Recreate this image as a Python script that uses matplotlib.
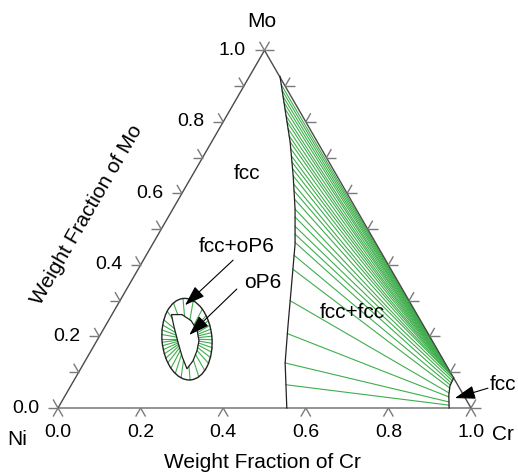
import numpy as np
import matplotlib
matplotlib.use("Agg")
import matplotlib.pyplot as plt
from matplotlib.patches import Ellipse, Polygon

plt.rcParams['font.family'] = ['Liberation Sans', 'DejaVu Sans']

# ---------------- data (weight fractions) ----------------
# left boundary of the fcc+fcc miscibility gap (Cr, Mo)
gap_left_cr = [0.554, 0.487, 0.444, 0.399, 0.345, 0.296, 0.245, 0.190, 0.131, 0.074]
gap_left_mo = [0.000, 0.126, 0.225, 0.331, 0.458, 0.556, 0.649, 0.744, 0.837, 0.927]
# right boundary (Cr-rich fcc region), continuing along the Cr-Mo edge
gap_right_cr = [0.947, 0.928, 0.918, 0.916, 0.700]
gap_right_mo = [0.000, 0.0365, 0.062, 0.084, 0.300]
# tie lines: Mo at the left end / Mo at the right end
tie_left_mo = [0.065, 0.126, 0.208, 0.300, 0.388, 0.427, 0.463, 0.486, 0.508, 0.534,
               0.556, 0.584, 0.607, 0.626, 0.649, 0.669, 0.688, 0.705, 0.725, 0.744,
               0.761, 0.781, 0.801, 0.817, 0.837, 0.854, 0.871, 0.888, 0.904]
tie_right_mo = [0.008, 0.017, 0.031, 0.042, 0.056, 0.064, 0.070, 0.076, 0.081, 0.085,
                0.088, 0.092, 0.096, 0.100, 0.104, 0.108, 0.113, 0.118, 0.123, 0.128,
                0.134, 0.140, 0.147, 0.154, 0.162, 0.170, 0.180, 0.190, 0.200]
# oP6 single-phase lens (Cr, Mo)
op6_cr = [0.1440, 0.1696, 0.1998, 0.2270, 0.2473, 0.2565, 0.2609, 0.2575, 0.2290, 0.1995, 0.1690]
op6_mo = [0.2612, 0.2612, 0.2444, 0.2191, 0.1882, 0.1601, 0.1320, 0.1096, 0.1433, 0.1826, 0.2247]
# fcc+oP6 outer boundary (ellipse): centre Cr, Mo and size
ring_center_cr, ring_center_mo = 0.2161, 0.1924
ring_width, ring_height, ring_angle = 0.121, 0.198, 5.0
# directions (deg) of the fcc+oP6 tie lines around the lens
ring_tie_angles = [95, 110, 125, 140, 150, 160, 170, 180, 188, 196, 205, 214, 223, 232,
                   242, 252, 262, 275, 288, 300, 312, 322, 332, 341, 350, 358, 6, 14,
                   22, 30, 40, 50, 62, 80]

tick_values = [0.0, 0.2, 0.4, 0.6, 0.8, 1.0]
minor_values = [0.1, 0.2, 0.3, 0.4, 0.5, 0.6, 0.7, 0.8, 0.9]

S3 = np.sqrt(3) / 2


def tern(cr, mo):
    cr = np.asarray(cr, float)
    mo = np.asarray(mo, float)
    return cr + mo / 2, mo * S3


fig = plt.figure(figsize=(5.18, 4.73), dpi=100)
ax = fig.add_axes([0, 0, 1, 1])
ax.set_xlim(-58 / 413, 460 / 413)
ax.set_ylim(-65 / 413, 408 / 413)
ax.axis('off')

edge_c = '#4a4a4a'
tick_c = '#7a7a7a'
green = '#3fae4c'

# triangle
tx, ty = tern([0, 1, 0, 0], [0, 0, 1, 0])
ax.plot(tx[:2], ty[:2], color='#8a8a8a', lw=1.3, zorder=3)
ax.plot(tx[1:], ty[1:], color=edge_c, lw=1.0, zorder=3)

TL = 0.024


def tick(cr, mo, dirs):
    x0, y0 = tern(cr, mo)
    for d in dirs:
        r = np.radians(d)
        ax.plot([x0, x0 + TL * np.cos(r)], [y0, y0 + TL * np.sin(r)],
                color=tick_c, lw=1.0, zorder=3, solid_capstyle='butt')


for v in tick_values:
    tick(v, 0, [240, 300])
for v in [0.0] + minor_values + [1.0]:
    tick(0, v, [180, 120])
    tick(1 - v, v, [0, 60])

fs_tick = 14
fs_lab = 15
for v in tick_values:
    x, y = tern(v, 0)
    ax.text(x, y - 0.060, f"{v:.1f}", ha='center', va='center', fontsize=fs_tick)
    x, y = tern(0, v)
    ax.text(x - 0.045, y, f"{v:.1f}", ha='right', va='center', fontsize=fs_tick)

ax.text(0.494, 0.935, "Mo", ha='center', va='center', fontsize=fs_lab)
ax.text(-0.099, -0.077, "Ni", ha='center', va='center', fontsize=fs_lab)
ax.text(1.077, -0.065, "Cr", ha='center', va='center', fontsize=fs_lab)
ax.text(0.496, -0.131, "Weight Fraction of Cr", ha='center', va='center', fontsize=fs_lab)
ax.text(0.070, 0.467, "Weight Fraction of Mo", ha='center', va='center',
        fontsize=fs_lab, rotation=60, rotation_mode='anchor')

# tie lines fcc+fcc
lm = np.array(tie_left_mo)
lc = np.interp(lm, gap_left_mo, gap_left_cr)
rm = np.array(tie_right_mo)
rc = np.interp(rm, gap_right_mo, gap_right_cr)
for a, b, c, d in zip(lc, lm, rc, rm):
    x, y = tern([a, c], [b, d])
    ax.plot(x, y, color=green, lw=0.8, zorder=2)

# boundaries
x, y = tern(gap_left_cr, gap_left_mo)
ax.plot(x, y, color='#222222', lw=0.9, zorder=4)
x, y = tern(gap_right_cr[:4], gap_right_mo[:4])
ax.plot(x, y, color='#222222', lw=0.9, zorder=4)

# fcc+oP6 ring
cx, cy = tern(ring_center_cr, ring_center_mo)
lx, ly = tern(op6_cr, op6_mo)
poly = np.column_stack([lx, ly])
ox, oy = poly.mean(axis=0)


def ray_poly(o, d, P):
    best = None
    n = len(P)
    for i in range(n):
        p1, p2 = P[i], P[(i + 1) % n]
        e = p2 - p1
        M = np.array([[d[0], -e[0]], [d[1], -e[1]]])
        if abs(np.linalg.det(M)) < 1e-12:
            continue
        t, s = np.linalg.solve(M, p1 - o)
        if t > 0 and 0 <= s <= 1:
            best = t if best is None else min(best, t)
    return best


def ray_ellipse(o, d):
    th = np.radians(ring_angle)
    R = np.array([[np.cos(th), np.sin(th)], [-np.sin(th), np.cos(th)]])
    oo = R @ (np.array(o) - np.array([cx, cy]))
    dd = R @ np.array(d)
    a, b = ring_width / 2, ring_height / 2
    A = (dd[0] / a) ** 2 + (dd[1] / b) ** 2
    B = 2 * (oo[0] * dd[0] / a ** 2 + oo[1] * dd[1] / b ** 2)
    C = (oo[0] / a) ** 2 + (oo[1] / b) ** 2 - 1
    return (-B + np.sqrt(B * B - 4 * A * C)) / (2 * A)


o = np.array([ox, oy])
for ang in ring_tie_angles:
    r = np.radians(ang)
    d = np.array([np.cos(r), np.sin(r)])
    t1 = ray_poly(o, d, poly)
    t2 = ray_ellipse(o, d)
    if t1 is None:
        continue
    p1, p2 = o + t1 * d, o + t2 * d
    ax.plot([p1[0], p2[0]], [p1[1], p2[1]], color=green, lw=0.8, zorder=2)

ax.add_patch(Ellipse((cx, cy), ring_width, ring_height, angle=ring_angle,
                     fill=False, ec='#222222', lw=1.0, zorder=4))
ax.add_patch(Polygon(poly, closed=True, fill=False, ec='#222222', lw=0.9, zorder=4))

# phase labels
ax.text(0.458, 0.569, "fcc", ha='center', va='center', fontsize=fs_lab)
ax.text(0.712, 0.232, "fcc+fcc", ha='center', va='center', fontsize=fs_lab)
arrow = dict(arrowstyle='-|>,head_length=0.9,head_width=0.3', color='black', lw=0.8,
             shrinkA=0, shrinkB=0, mutation_scale=14)
ax.text(0.433, 0.390, "fcc+oP6", ha='center', va='center', fontsize=fs_lab)
ax.annotate("", xy=(0.3075, 0.249), xytext=(0.424, 0.358), arrowprops=arrow, zorder=5)
ax.text(0.496, 0.305, "oP6", ha='center', va='center', fontsize=fs_lab)
ax.annotate("", xy=(0.318, 0.177), xytext=(0.433, 0.288), arrowprops=arrow, zorder=5)
ax.text(1.077, 0.056, "fcc", ha='center', va='center', fontsize=fs_lab)
ax.annotate("", xy=(0.961, 0.024), xytext=(1.041, 0.048), arrowprops=arrow, zorder=5)

fig.savefig("out.png", dpi=100, facecolor='white')
